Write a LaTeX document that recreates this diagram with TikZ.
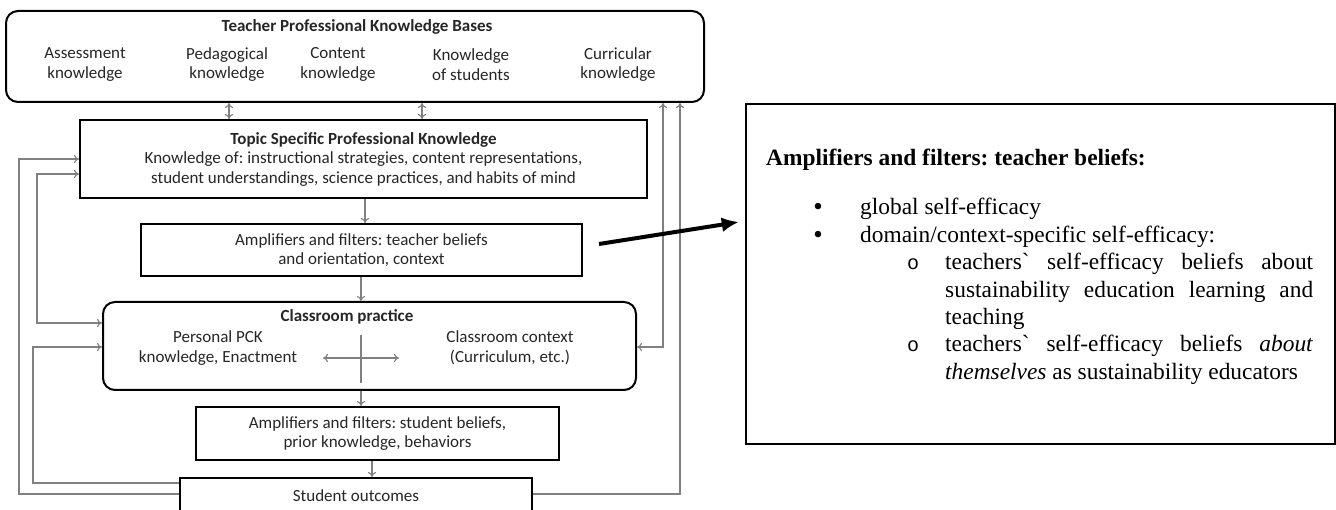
\documentclass[tikz,border=0pt]{standalone}
\usepackage{fontspec}
\setmainfont{Carlito}
\newfontfamily\timesfont{Liberation Serif}
\newfontfamily\courfont{Liberation Mono}
\usetikzlibrary{arrows.meta}
\frenchspacing
\tikzset{
  basic/.style    = {draw, line width=2pt, inner sep=0pt, align=center,
                     text=black!85, font=\fontsize{17}{19.5}\selectfont},
  sharpbox/.style = {basic, rectangle},
  roundbox/.style = {basic, rounded corners=12pt},
  itemtext/.style = {align=center, inner sep=0pt, text=black!85,
                     font=\fontsize{17}{19.5}\selectfont},
  heading/.style  = {itemtext, font=\fontsize{17}{19.5}\selectfont\bfseries},
  conn/.style     = {draw=gray, line width=1.1pt},
  beliefs/.style  = {inner sep=0pt, font=\timesfont\fontsize{23.4}{27.3}\selectfont},
  bullet/.style   = {beliefs, font=\timesfont\fontsize{27}{20}\selectfont},
  subbullet/.style= {beliefs, font=\courfont\fontsize{20}{20}\selectfont},
  bigarrow/.style = {line width=4pt, -{Latex[length=17pt,width=15pt]}}
}
\begin{document}
\begin{tikzpicture}[x=1pt, y=-1pt, >={To[length=5pt,width=8pt]}]

\useasboundingbox (0,0) rectangle (1336,510);

% the knowledge bases on top
\node[roundbox, minimum width=698pt, minimum height=91pt] (kb) at (355,56.5) {};
\node[heading] (kbt) at (357,27) {Teacher Professional Knowledge Bases};
\foreach \x/\name/\txt in {85/kas/{Assessment\\knowledge}, 227/kpe/{Pedagogical\\knowledge},
    338/kco/{Content\\knowledge}, 471/kst/{Knowledge\\of students}, 618/kcu/{Curricular\\knowledge}}
  \node[itemtext] (\name) at (\x,64.5) {\txt};

% the chain of boxes, top to bottom
\node[sharpbox, minimum width=567pt, minimum height=78pt] (tspk) at (363.5,159)
  {\textbf{Topic Specific Professional Knowledge}\\Knowledge of: instructional strategies, content representations,\\student understandings, science practices, and habits of mind};
\node[sharpbox, minimum width=441pt, minimum height=52pt] (ampt) at (361.5,250)
  {Amplifiers and filters: teacher beliefs\\and orientation, context};

\node[roundbox, minimum width=533pt, minimum height=88pt] (cp) at (369.5,346) {};
\node[heading] (cpt) at (347,317) {Classroom practice};
\node[itemtext] (pck) at (218,348) {Personal PCK\\knowledge, Enactment};
\node[itemtext] (ctx) at (510,348) {Classroom context\\(Curriculum, etc.)};
\coordinate (crosst) at (361,335);
\coordinate (crossb) at (361,383);
\coordinate (crossl) at (323,358);
\coordinate (crossr) at (399,358);

\node[sharpbox, minimum width=363pt, minimum height=53pt] (amps) at (377.5,433.5)
  {Amplifiers and filters: student beliefs,\\prior knowledge, behaviors};
\node[sharpbox, minimum width=352pt, minimum height=36pt] (out) at (356,496) {Student outcomes};

% the box with the teacher beliefs
\node[sharpbox, line width=2.5pt, minimum width=589pt, minimum height=340pt] (tb) at (1040.5,274) {};
\begin{scope}[every node/.style={beliefs}]
\node[anchor=base west] (tbt) at (766,166) {\bfseries Amplifiers and filters: teacher beliefs:};
\node[bullet, anchor=base] (b1) at (818,216) {\textbullet};
\node[anchor=base west] (b1t) at (860,215) {global self-efficacy};
\node[bullet, anchor=base] (b2) at (818,244) {\textbullet};
\node[anchor=base west] (b2t) at (860,243) {domain/context-specific self-efficacy:};
\node[subbullet, anchor=base] (s1) at (913,270) {o};
\node[anchor=base west, text width=368pt, align=justify] (s1t) at (945,270)
  {teachers\textasciigrave{} self-efficacy beliefs about\linebreak sustainability education learning and\linebreak teaching};
\node[subbullet, anchor=base] (s2) at (913,352) {o};
\node[anchor=base west, text width=368pt, align=justify] (s2t) at (945,352)
  {teachers\textasciigrave{} self-efficacy beliefs \textit{about}\linebreak \textit{themselves} as sustainability educators};
\end{scope}

% arrows between the boxes
\draw[conn, <->] (kb.south -| 229,0) -- (tspk.north -| 229,0);
\draw[conn, <->] (kb.south -| 422,0) -- (tspk.north -| 422,0);
\draw[conn, ->] (tspk.south -| 365,0) -- (ampt.north -| 365,0);
\draw[conn, ->] (ampt.south -| 361,0) -- (cp.north -| 361,0);
\draw[conn, ->] (cp.south -| 361,0) -- (amps.north -| 361,0);
\draw[conn, ->] (amps.south -| 372,0) -- (out.north -| 372,0);
\draw[conn] (crosst) -- (crossb);
\draw[conn, <->] (crossl) -- (crossr);

% feedback lines on the left
\draw[conn, ->] (out.west |- 0,494) -| (19,159) -- (tspk.west |- 0,159);
\draw[conn, ->] (out.west |- 0,483) -| (33,347) -- (cp.west |- 0,347);
\draw[conn, <->] (tspk.west |- 0,174) -| (37,323) -- (cp.west |- 0,323);

% feedback lines on the right
\draw[conn, ->] (out.east |- 0,494) -| (kb.south -| 680,0);
\draw[conn, <->] (kb.south -| 663,0) |- (cp.east |- 0,347);

% pointer to the beliefs box
\draw[bigarrow] ([shift={(16,-6)}]ampt.east) -- ([shift={(-6,-52)}]tb.west);
\end{tikzpicture}
\end{document}
